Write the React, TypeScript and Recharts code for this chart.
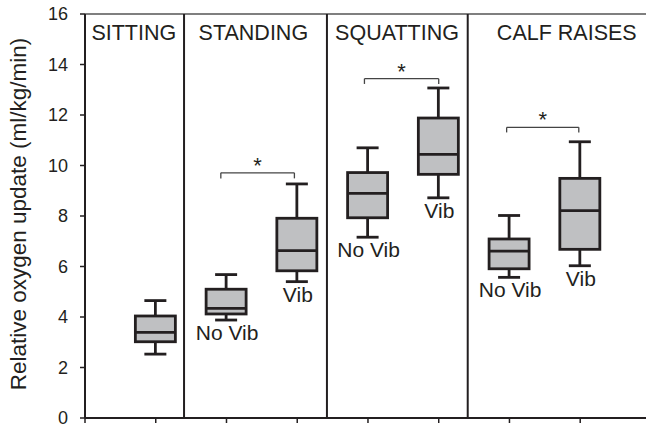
import React from 'react';
import { ComposedChart, Bar, XAxis, YAxis, ReferenceLine, ReferenceDot } from 'recharts';

// ---- data ----
const groups = ['SITTING', 'STANDING', 'SQUATTING', 'CALF RAISES'];
const groupCenters = [0.69, 2.38, 4.41, 6.81];
const headerLevel = 14.97;
const dividers = [1.4, 3.42, 5.41];

const positions = [1, 2, 3, 4, 5, 6, 7];
const conditions = ['', 'No Vib', 'Vib', 'No Vib', 'Vib', 'No Vib', 'Vib'];
const mins = [2.53, 3.88, 5.4, 7.16, 8.72, 5.57, 6.03];
const q1s = [3.02, 4.12, 5.83, 7.93, 9.65, 5.91, 6.68];
const medians = [3.39, 4.34, 6.63, 8.9, 10.44, 6.61, 8.21];
const q3s = [4.04, 5.1, 7.91, 9.72, 11.88, 7.09, 9.49];
const maxs = [4.65, 5.68, 9.27, 10.7, 13.07, 8.02, 10.94];

const bracketStarts = [1.92, 3.95, 5.96];
const bracketEnds = [2.96, 5.0, 6.98];
const bracketLevels = [9.71, 13.44, 11.51];
const bracketDrops = [9.49, 13.23, 11.31];

const yTicks = [0, 2, 4, 6, 8, 10, 12, 14, 16];
const xTicks = [0, 1, 2, 3, 4, 5, 6, 7];
const yLabel = 'Relative oxygen update (ml/kg/min)';

const data = positions.map((x, i) => ({
  x,
  box: [q1s[i], q3s[i]],
  min: mins[i],
  q1: q1s[i],
  median: medians[i],
  q3: q3s[i],
  max: maxs[i],
  label: conditions[i],
}));

const INK = '#231f20';
const FILL = '#bfc0c2';
const FONT = '"Liberation Sans", Arial, Helvetica, sans-serif';

function BoxShape(props: any) {
  const { x, y, width, height, payload } = props;
  if (x == null || y == null || !payload) return null;
  const top = Math.min(y, y + height);
  const h = Math.abs(height);
  const k = h / (payload.q3 - payload.q1);
  const py = (v: number) => top + (payload.q3 - v) * k;
  const cx = x + width / 2;
  const capHalf = 11;
  const sw = 2.8;
  const yMax = py(payload.max);
  const yMin = py(payload.min);
  const yMed = py(payload.median);
  return (
    <g>
      <line x1={cx} x2={cx} y1={yMax} y2={top} stroke={INK} strokeWidth={sw} />
      <line x1={cx} x2={cx} y1={yMin} y2={top + h} stroke={INK} strokeWidth={sw} />
      <line x1={cx - capHalf} x2={cx + capHalf} y1={yMax} y2={yMax} stroke={INK} strokeWidth={sw} />
      <line x1={cx - capHalf} x2={cx + capHalf} y1={yMin} y2={yMin} stroke={INK} strokeWidth={sw} />
      <rect x={x} y={top} width={width} height={h} fill={FILL} stroke={INK} strokeWidth={sw} />
      <line x1={x} x2={x + width} y1={yMed} y2={yMed} stroke={INK} strokeWidth={sw} />
      {payload.label ? (
        <text x={cx + 1} y={yMin + 20} textAnchor="middle" fontSize={21} fill={INK} fontFamily={FONT}>
          {payload.label}
        </text>
      ) : null}
    </g>
  );
}

function YLabel() {
  return (
    <text
      transform="rotate(-90)"
      x={-214}
      y={26}
      textAnchor="middle"
      fontSize={22.5}
      fill={INK}
      fontFamily={FONT}
    >
      {yLabel}
    </text>
  );
}

export default function App() {
  return (
    <div style={{ position: 'absolute', left: 0, top: 0, width: 646, height: 428, background: '#fff' }}>
      <ComposedChart
        width={646}
        height={428}
        data={data}
        margin={{ top: 14, right: 0, bottom: 0, left: 0 }}
      >
        <XAxis
          dataKey="x"
          type="number"
          domain={[0, 7.93]}
          ticks={xTicks}
          interval={0}
          tickFormatter={() => ''}
          tickSize={5}
          height={10}
          axisLine={{ stroke: INK, strokeWidth: 2 }}
          tickLine={{ stroke: INK, strokeWidth: 1.5 }}
          allowDataOverflow
        />
        <YAxis
          type="number"
          domain={[0, 16]}
          ticks={yTicks}
          interval={0}
          width={85}
          tickSize={5}
          tickMargin={12}
          axisLine={{ stroke: INK, strokeWidth: 2 }}
          tickLine={{ stroke: INK, strokeWidth: 1.5 }}
          tick={{ fill: INK, fontSize: 18, fontFamily: FONT }}
          label={<YLabel />}
          allowDataOverflow
        />
        <ReferenceLine y={16} stroke="#555" strokeWidth={1.5} />
        {dividers.map((d) => (
          <ReferenceLine key={'d' + d} x={d} stroke={INK} strokeWidth={2} />
        ))}
        {groups.map((g, i) => (
          <ReferenceDot
            key={g}
            x={groupCenters[i]}
            y={headerLevel}
            r={0}
            fill="none"
            stroke="none"
            label={(lp: any) => (
              <text
                x={lp.viewBox.x}
                y={lp.viewBox.y}
                textAnchor="middle"
                fontSize={21.5}
                fill={INK}
                fontFamily={FONT}
              >
                {g}
              </text>
            )}
          />
        ))}
        {bracketStarts.map((s, i) => (
          <ReferenceLine
            key={'bh' + i}
            segment={[
              { x: s, y: bracketLevels[i] },
              { x: bracketEnds[i], y: bracketLevels[i] },
            ]}
            stroke="#444"
            strokeWidth={1.3}
          />
        ))}
        {bracketStarts.map((s, i) => (
          <ReferenceLine
            key={'bl' + i}
            segment={[
              { x: s, y: bracketLevels[i] },
              { x: s, y: bracketDrops[i] },
            ]}
            stroke="#444"
            strokeWidth={1.3}
          />
        ))}
        {bracketEnds.map((e, i) => (
          <ReferenceLine
            key={'br' + i}
            segment={[
              { x: e, y: bracketLevels[i] },
              { x: e, y: bracketDrops[i] },
            ]}
            stroke="#444"
            strokeWidth={1.3}
          />
        ))}
        {bracketStarts.map((s, i) => (
          <ReferenceDot
            key={'star' + i}
            x={(s + bracketEnds[i]) / 2}
            y={bracketLevels[i]}
            r={0}
            fill="none"
            stroke="none"
            label={(lp: any) => (
              <text
                x={lp.viewBox.x}
                y={lp.viewBox.y}
                textAnchor="middle"
                fontSize={22}
                fill={INK}
                fontFamily={FONT}
              >
                *
              </text>
            )}
          />
        ))}
        <Bar dataKey="box" barSize={40} shape={<BoxShape />} isAnimationActive={false} />
      </ComposedChart>
    </div>
  );
}
